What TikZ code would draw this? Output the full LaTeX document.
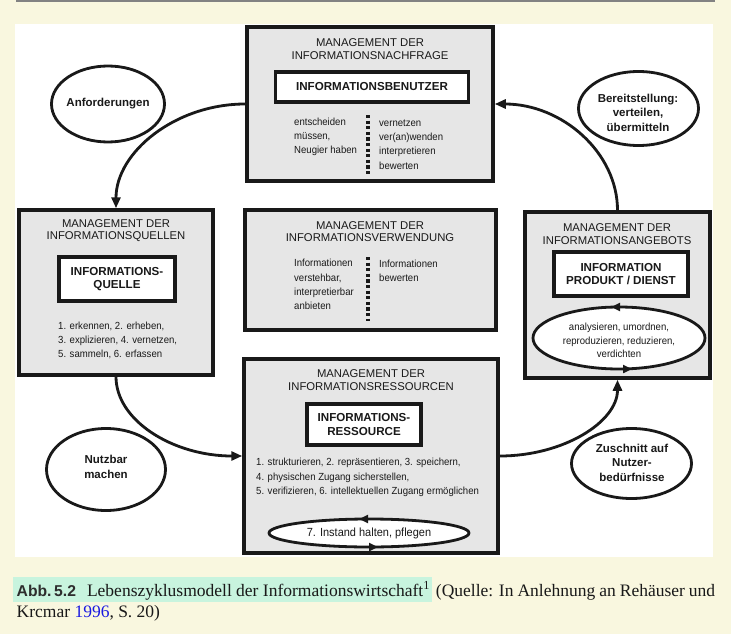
\documentclass[tikz,border=0pt]{standalone}
\usepackage{fontspec}
\setmainfont{Liberation Sans}
\newfontfamily\capserif{Liberation Serif}
\newfontfamily\capsans{Liberation Sans}
\newfontfamily\narrowsans[FakeStretch=0.93]{Liberation Sans}
\usetikzlibrary{shapes.geometric,arrows.meta}
\definecolor{cream}{RGB}{249,247,223}
\definecolor{boxgray}{RGB}{230,230,230}
\definecolor{mint}{RGB}{200,244,222}
\definecolor{linkblue}{RGB}{25,25,225}
\definecolor{capgray}{RGB}{45,45,45}
\definecolor{ink}{RGB}{25,25,25}
\definecolor{rulegray}{RGB}{130,130,130}
\begin{document}
\begin{tikzpicture}[x=1pt,y=-1pt,
  mgmt/.style={draw=ink, line width=3.5pt, fill=boxgray, inner sep=0pt},
  kernbox/.style={draw=ink, line width=3.5pt, fill=white, inner sep=0pt, align=center, text=ink, font=\bfseries\fontsize{11.6}{13.7}\selectfont},
  oval/.style={ellipse, draw=ink, line width=2.8pt, fill=white, inner sep=0pt},
  ring/.style={ellipse, draw=ink, line width=2.8pt, fill=white, inner sep=0pt},
  ttl/.style={align=center, inner sep=0pt, text=ink, font=\fontsize{11.3}{12.7}\selectfont},
  body/.style={align=left, inner sep=0pt, text=ink, anchor=west, font=\narrowsans\fontsize{10.3}{14.2}\selectfont},
  ringtxt/.style={align=center, inner sep=0pt, text=ink, font=\narrowsans\fontsize{10.3}{13.6}\selectfont},
  ovtxt/.style={align=center, inner sep=0pt, text=ink, font=\bfseries\fontsize{11.5}{14.5}\selectfont},
  flow/.style={draw=ink, line width=2.8pt, -{Triangle[length=11pt,width=9pt]}},
  spin/.style={draw=ink, line width=2.5pt, -{Triangle[length=9pt,width=8pt]}},
  dotsep/.style={draw=ink, line width=3.2pt, dash pattern=on 3.2pt off 2.4pt},
]
% background and panel
\fill[cream] (0,0) rectangle (731,634);
\useasboundingbox (0,0) rectangle (731,634);
\draw[rulegray, line width=2pt] (16,1) -- (715,1);
\fill[white] (15,24) rectangle (713,557);

% top box: Nachfrage
\node[mgmt, minimum width=246pt, minimum height=154pt] (nach) at (370,104) {};
\node[ttl] (nachT) at (370,49) {MANAGEMENT DER\\INFORMATIONSNACHFRAGE};
\node[kernbox, minimum width=193pt, minimum height=30pt] (benutzer) at (372,87) {INFORMATIONSBENUTZER};
\node[body] (nachL) at (294,137) {entscheiden\\müssen,\\Neugier haben};
\node[body] (nachR) at (379,144.5) {vernetzen\\ver(an)wenden\\interpretieren\\bewerten};
\draw[dotsep] (368,115) -- (368,176);

% left box: Quellen
\node[mgmt, minimum width=194pt, minimum height=165pt] (quellen) at (116,292.5) {};
\node[ttl] (quellenT) at (116,230.5) {MANAGEMENT DER\\INFORMATIONSQUELLEN};
\node[kernbox, minimum width=116pt, minimum height=44pt] (quelle) at (117,279) {INFORMATIONS-\\QUELLE};
\node[body] (quellenL) at (58,340.5) {1. erkennen, 2. erheben,\\3. explizieren, 4. vernetzen,\\5. sammeln, 6. erfassen};

% middle box: Verwendung
\node[mgmt, minimum width=251pt, minimum height=120pt] (verw) at (370.5,270) {};
\node[ttl] (verwT) at (370,231.5) {MANAGEMENT DER\\INFORMATIONSVERWENDUNG};
\node[body] (verwL) at (294,284.5) {Informationen\\verstehbar,\\interpretierbar\\anbieten};
\node[body] (verwR) at (379,270.5) {Informationen\\bewerten};
\draw[dotsep] (368,257) -- (368,321);

% right box: Angebot
\node[mgmt, minimum width=185pt, minimum height=166pt] (angebot) at (617.5,295) {};
\node[ttl] (angebotT) at (617,234) {MANAGEMENT DER\\INFORMATIONSANGEBOTS};
\node[kernbox, minimum width=134pt, minimum height=44pt] (produkt) at (621,274) {INFORMATION\\PRODUKT / DIENST};
\node[ring, minimum width=172pt, minimum height=62pt] (veredeln) at (619,338) {};
\node[ringtxt] (veredelnT) at (619,340.5) {analysieren, umordnen,\\reproduzieren, reduzieren,\\verdichten};
\draw[spin] ([xshift=5pt,yshift=-1.4pt]veredeln.north) -- ([xshift=-8pt,yshift=-1.4pt]veredeln.north);
\draw[spin] ([xshift=1pt,yshift=1.4pt]veredeln.south) -- ([xshift=13pt,yshift=1.4pt]veredeln.south);

% bottom box: Ressourcen
\node[mgmt, minimum width=254pt, minimum height=194pt] (ress) at (371,456) {};
\node[ttl] (ressT) at (371,380) {MANAGEMENT DER\\INFORMATIONSRESSOURCEN};
\node[kernbox, minimum width=114pt, minimum height=41pt] (ressource) at (364,424.5) {INFORMATIONS-\\RESSOURCE};
\node[body] (ressL) at (256,477.5) {1. strukturieren, 2. repräsentieren, 3. speichern,\\4. physischen Zugang sicherstellen,\\5. verifizieren, 6. intellektuellen Zugang ermöglichen};
\node[ring, minimum width=200pt, minimum height=28pt] (pflege) at (369,533) {};
\node[ringtxt, font=\narrowsans\fontsize{11.8}{13}\selectfont] (pflegeT) at (pflege) {7. Instand halten, pflegen};
\draw[spin] ([xshift=1pt,yshift=-1.4pt]pflege.north) -- ([xshift=-10pt,yshift=-1.4pt]pflege.north);
\draw[spin] ([xshift=-2pt,yshift=1.4pt]pflege.south) -- ([xshift=9pt,yshift=1.4pt]pflege.south);

% ovals
\node[oval, minimum width=113pt, minimum height=76pt] (anf) at (108,104) {};
\node[ovtxt] (anfT) at (anf) {Anforderungen};
\node[oval, minimum width=120pt, minimum height=74pt] (bereit) at (638.5,108.5) {};
\node[ovtxt] (bereitT) at (638,112.5) {Bereitstellung:\\verteilen,\\übermitteln};
\node[oval, minimum width=119pt, minimum height=82pt] (nutzbar) at (106,469.5) {};
\node[ovtxt] (nutzbarT) at (106,467) {Nutzbar\\machen};
\node[oval, minimum width=120pt, minimum height=70pt] (zuschnitt) at (631.5,463.5) {};
\node[ovtxt] (zuschnittT) at (632,462.5) {Zuschnitt auf\\Nutzer-\\bedürfnisse};

% flows
\draw[flow] (nach.west) .. controls +(-70,0) and +(0,-56) .. (quellen.north);
\draw[flow] (quellen.south) .. controls +(0,44) and +(-69,0) .. (ress.west);
\draw[flow] (ress.east) .. controls +(64,0) and +(0,42) .. (angebot.south);
\draw[flow] (angebot.north) .. controls +(0,-58) and +(67,0) .. (nach.east);

% caption
\node[anchor=base west, inner sep=0pt, text=ink, font=\capserif\fontsize{17.5}{20}\selectfont] (cap1) at (12.5,596)
  {\hbox to 702.5pt{\setlength\fboxsep{0pt}\colorbox{mint}{\rule[-6pt]{0pt}{25pt}\hspace{4pt}{\capsans\bfseries\color{capgray}\fontsize{15.7}{20}\selectfont Abb.\,5.2}\hspace{11pt}Lebenszyklusmodell der Informationswirtschaft\textsuperscript{1}\hspace{2pt}} (Quelle: In Anlehnung an Rehäuser und}};
\node[anchor=base west, inner sep=0pt, text=ink, font=\capserif\fontsize{17.5}{20}\selectfont] (cap2) at (16.5,617)
  {Krcmar \textcolor{linkblue}{1996}, S.~20)};
\end{tikzpicture}
\end{document}
